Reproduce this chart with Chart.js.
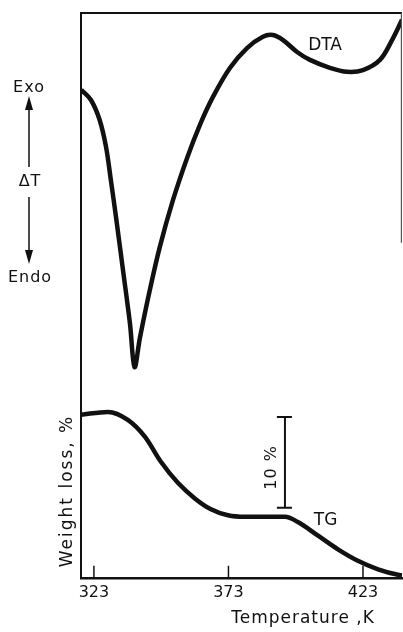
<!DOCTYPE html>
<html>
<head>
<meta charset="utf-8">
<script src="https://cdn.jsdelivr.net/npm/chart.js@4.4.0/dist/chart.umd.min.js"></script>
<style>
html, body { margin: 0; padding: 0; background: #fff; }
#wrap { width: 403px; height: 632px; position: relative; }
</style>
</head>
<body>
<div id="wrap"><canvas id="dtaChart"></canvas></div>
<script>
// temperature axis, K
var tempTicks = [323, 373, 423];
var tempMin = 318.2, tempMax = 437.5;

// DTA trace (relative deflection: 0 = bottom of frame, 100 = top)
var dtaTemp = [318.3, 321.9, 325.1, 327.5, 329.3, 331.2, 333.8, 336.4, 338.1, 340.1, 343.8, 347.5, 352.4, 357.6, 362.4, 367.2, 373.6, 379.9, 385.8, 389.5, 393.3, 398.5, 403.3, 410.7, 417.1, 423.0, 429.3, 433.8, 437.5];
var dtaVal  = [86.4, 84.6, 81.1, 76.3, 70.4, 63.9, 54.5, 45.0, 37.3, 42.5, 51.0, 58.6, 66.9, 74.3, 80.2, 85.1, 90.3, 93.8, 95.8, 96.1, 95.2, 93.1, 91.7, 90.3, 89.6, 89.9, 91.7, 95.2, 98.8];

// TG trace, weight loss %
var tgTemp = [318.2, 328.2, 335.6, 342.0, 347.9, 354.2, 360.5, 366.5, 372.8, 379.1, 386.6, 394.0, 398.8, 406.3, 413.7, 421.1, 428.6, 436.0, 437.5];
var tgLoss = [0.2, -0.1, 0.77, 2.64, 5.38, 7.69, 9.4, 10.6, 11.26, 11.43, 11.43, 11.43, 12.0, 13.5, 15.0, 16.26, 17.2, 17.8, 17.86];

// 10 % scale bar
var barTemp = 394.0;
var barCap = [391.0, 396.6];
var barLoss = [0.44, 10.44];

function pts(xs, ys) {
  return xs.map(function (t, i) { return { x: t, y: ys[i] }; });
}

var ink = '#111';
var fam = '"DejaVu Sans", sans-serif';

var framePlugin = {
  id: 'frame',
  afterDatasetsDraw: function (chart) {
    var ctx = chart.ctx, a = chart.chartArea;
    var sx = chart.scales.x, yd = chart.scales.yDta, yt = chart.scales.yTg;
    ctx.save();
    // frame: left + top, partial right edge
    ctx.strokeStyle = ink;
    ctx.lineWidth = 2;
    ctx.beginPath();
    ctx.moveTo(a.left, a.bottom);
    ctx.lineTo(a.left, a.top);
    ctx.lineTo(a.right, a.top);
    ctx.stroke();
    ctx.lineWidth = 1.2;
    ctx.strokeStyle = '#555';
    ctx.beginPath();
    ctx.moveTo(a.right - 0.6, a.top);
    ctx.lineTo(a.right - 0.6, yd.getPixelForValue(59.3));
    ctx.stroke();

    // inward tick marks
    ctx.strokeStyle = ink;
    ctx.lineWidth = 1.5;
    tempTicks.forEach(function (t) {
      var px = sx.getPixelForValue(t);
      ctx.beginPath();
      ctx.moveTo(px, a.bottom);
      ctx.lineTo(px, a.bottom - 12);
      ctx.stroke();
    });

    ctx.fillStyle = ink;
    ctx.textAlign = 'center';
    ctx.textBaseline = 'middle';

    // curve labels
    ctx.font = '17px ' + fam;
    ctx.fillText('DTA', sx.getPixelForValue(408.9), yd.getPixelForValue(94.3));
    ctx.fillText('TG', sx.getPixelForValue(409.1), yt.getPixelForValue(11.8));

    // axis title
    ctx.letterSpacing = '1px';
    ctx.fillText('Temperature ,K', 303, 619);

    // exo / endo arrow
    ctx.font = '16px ' + fam;
    ctx.fillText('Exo', 29, 88);
    ctx.fillText('\u0394T', 30, 182);
    ctx.fillText('Endo', 30, 278);
    ctx.lineWidth = 1.5;
    ctx.beginPath();
    ctx.moveTo(29, 108); ctx.lineTo(29, 167);
    ctx.moveTo(29, 197); ctx.lineTo(29, 252);
    ctx.stroke();
    ctx.beginPath();
    ctx.moveTo(29, 96); ctx.lineTo(25, 110); ctx.lineTo(33, 110); ctx.closePath();
    ctx.moveTo(29, 264); ctx.lineTo(25, 250); ctx.lineTo(33, 250); ctx.closePath();
    ctx.fill();

    // rotated texts
    ctx.save();
    ctx.translate(68, 491);
    ctx.rotate(-Math.PI / 2);
    ctx.font = '17px ' + fam;
    ctx.letterSpacing = '2px';
    ctx.fillText('Weight loss, %', 0, 0);
    ctx.restore();

    ctx.save();
    ctx.translate(sx.getPixelForValue(389.2), yt.getPixelForValue(6.0));
    ctx.rotate(-Math.PI / 2);
    ctx.font = '16px ' + fam;
    ctx.letterSpacing = '1px';
    ctx.fillText('10 %', 0, 0);
    ctx.restore();

    ctx.restore();
  }
};

var straight = { yAxisID: 'yTg', borderColor: ink, borderWidth: 2, pointRadius: 0, tension: 0 };

new Chart(document.getElementById('dtaChart'), {
  type: 'line',
  data: {
    datasets: [
      { label: 'DTA', data: pts(dtaTemp, dtaVal), yAxisID: 'yDta', borderColor: ink, borderWidth: 4.5, pointRadius: 0, tension: 0.35, borderJoinStyle: 'round' },
      { label: 'TG', data: pts(tgTemp, tgLoss), yAxisID: 'yTg', borderColor: ink, borderWidth: 4.5, pointRadius: 0, cubicInterpolationMode: 'monotone', borderJoinStyle: 'round' },
      Object.assign({ label: 'bar', data: pts([barTemp, barTemp], barLoss) }, straight),
      Object.assign({ label: 'capTop', data: pts(barCap, [barLoss[0], barLoss[0]]) }, straight),
      Object.assign({ label: 'capBottom', data: pts(barCap, [barLoss[1], barLoss[1]]) }, straight)
    ]
  },
  options: {
    responsive: true,
    maintainAspectRatio: false,
    animation: false,
    layout: { padding: { left: 81, right: 1, top: 13, bottom: 24 } },
    plugins: { legend: { display: false }, tooltip: { enabled: false } },
    scales: {
      x: {
        type: 'linear',
        min: tempMin,
        max: tempMax,
        afterBuildTicks: function (s) { s.ticks = tempTicks.map(function (v) { return { value: v }; }); },
        grid: { display: false, drawTicks: false },
        border: { display: true, color: ink, width: 2.5 },
        ticks: { color: ink, font: { family: fam, size: 16 }, padding: 5.5, maxRotation: 0, autoSkip: false }
      },
      yDta: { display: false, min: 0, max: 100 },
      yTg: { display: false, reverse: true, min: -43.96, max: 18.13 }
    }
  },
  plugins: [framePlugin]
});
</script>
</body>
</html>
